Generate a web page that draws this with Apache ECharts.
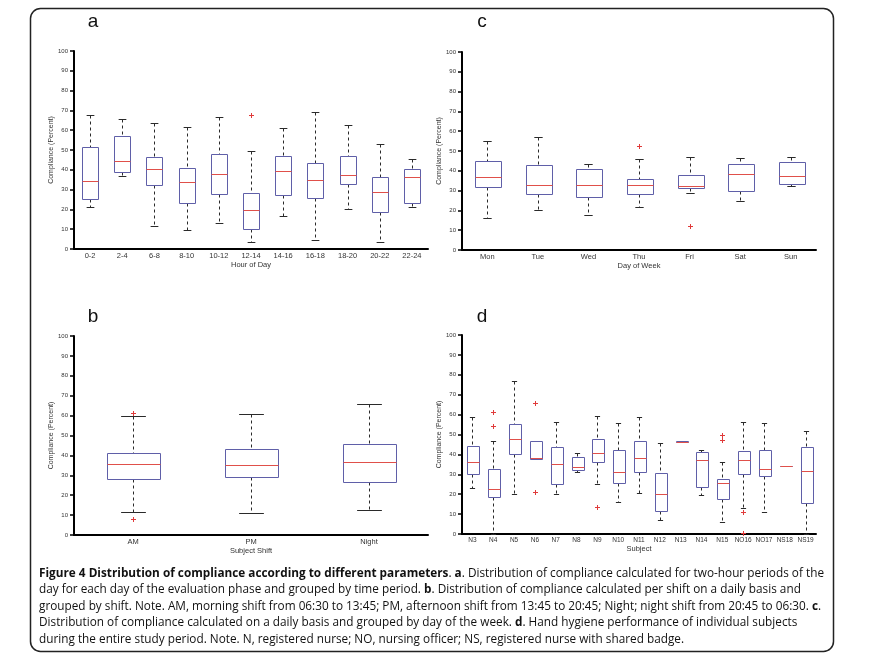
<!DOCTYPE html>
<html><head><meta charset="utf-8">
<script src="https://cdn.jsdelivr.net/npm/echarts@6/dist/echarts.min.js"></script>
<style>html,body{margin:0;padding:0;background:#fff}#c{width:881px;height:670px}</style>
</head><body><div id="c"></div>
<script>
// ---------- data (min, Q1, median, Q3, max) ----------
const hourCats = ['0-2','2-4','6-8','8-10','10-12','12-14','14-16','16-18','18-20','20-22','22-24'];
const hourStats = [
  [21.1, 25.5, 34.4, 51.7, 67.6],
  [36.7, 38.8, 44.5, 57.0, 65.9],
  [11.7, 32.4, 40.6, 46.5, 63.4],
  [9.7, 23.2, 33.7, 40.8, 61.7],
  [13.1, 27.9, 37.7, 47.8, 66.8],
  [3.5, 10.3, 19.7, 28.4, 49.7],
  [16.5, 27.1, 39.6, 47.1, 61.2],
  [4.4, 25.9, 34.8, 43.3, 69.0],
  [20.0, 33.0, 37.4, 47.0, 62.4],
  [3.5, 18.7, 28.6, 36.4, 53.0],
  [21.2, 23.2, 36.4, 40.2, 45.5]
];
const hourOutliers = [[5, 67.8]];

const dayCats = ['Mon','Tue','Wed','Thu','Fri','Sat','Sun'];
const dayStats = [
  [16.4, 32.0, 37.1, 44.7, 55.0],
  [20.2, 28.5, 32.9, 42.7, 57.2],
  [17.7, 26.6, 32.9, 40.8, 43.3],
  [21.6, 28.2, 32.9, 35.8, 46.2],
  [28.7, 31.4, 32.3, 37.8, 47.2],
  [24.8, 29.7, 38.4, 43.3, 46.7],
  [32.2, 33.2, 37.3, 44.5, 46.9]
];
const dayOutliers = [[3, 52.4], [4, 12.1]];

const shiftCats = ['AM','PM','Night'];
const shiftStats = [
  [11.6, 28.3, 35.7, 41.0, 60.0],
  [11.0, 29.1, 35.3, 43.0, 61.0],
  [12.6, 26.5, 36.7, 45.7, 66.0]
];
const shiftOutliers = [[0, 61.1], [0, 8.2]];

const subjectCats = ['N3','N4','N5','N6','N7','N8','N9','N10','N11','N12','N13','N14','N15','NO16','NO17','NS18','NS19'];
const subjectStats = [
  [23.0, 30.3, 36.2, 44.2, 59.0],
  [0.0, 18.6, 22.6, 32.5, 46.7],
  [19.9, 40.0, 47.6, 55.1, 77.0],
  [37.6, 37.6, 38.4, 46.6, 46.6],
  [20.3, 24.9, 35.0, 43.5, 56.4],
  [31.3, 32.0, 33.9, 38.5, 40.5],
  [24.9, 36.0, 40.6, 47.6, 59.3],
  [15.9, 25.5, 31.0, 42.2, 56.0],
  [20.6, 31.0, 38.0, 46.6, 58.6],
  [7.0, 11.5, 20.2, 30.9, 45.9],
  [46.1, 46.1, 46.1, 46.7, 46.7],
  [19.6, 23.8, 37.3, 41.0, 42.2],
  [6.2, 17.6, 25.4, 27.6, 36.0],
  [13.2, 30.3, 37.2, 41.9, 56.4],
  [10.9, 29.3, 32.8, 42.2, 55.6],
  [34.1, 34.1, 34.1, 34.1, 34.1],
  [0.0, 15.8, 31.7, 43.9, 51.6]
];
const subjectOutliers = [[1, 61.5], [1, 54.2], [3, 66.0], [3, 20.9], [6, 13.4], [12, 49.7], [12, 47.2], [13, 11.2], [13, 0.4]];

const yTickLabels = ['0','10','20','30','40','50','60','70','80','90','100'];

// ---------- styling ----------
const BOX_COLOR = '#5f5fa8';
const MED_COLOR = '#e0504a';
const WHISK_COLOR = '#2a2a2a';
const OUT_COLOR = '#e03a3a';
const FONT = '"Liberation Sans", Arial, sans-serif';

function boxRenderer(boxFrac, capFrac) {
  return function (params, api) {
    const i = api.value(0);
    const mn = api.value(1), q1 = api.value(2), md = api.value(3), q3 = api.value(4), mx = api.value(5);
    const band = api.size([1, 0])[0];
    const bw = band * boxFrac, cw = band * capFrac;
    const pMin = api.coord([i, mn]), pQ1 = api.coord([i, q1]), pMd = api.coord([i, md]),
          pQ3 = api.coord([i, q3]), pMax = api.coord([i, mx]);
    const cx = Math.round(pMin[0]) + 0.5;
    const r = v => Math.round(v) + 0.5;
    const ch = [];
    const dash = { stroke: WHISK_COLOR, lineWidth: 1, lineDash: [3, 3] };
    const solid = { stroke: WHISK_COLOR, lineWidth: 1 };
    if (mx > q3) {
      ch.push({ type: 'line', shape: { x1: cx, y1: r(pMax[1]), x2: cx, y2: r(pQ3[1]) }, style: dash });
      ch.push({ type: 'line', shape: { x1: cx - cw / 2, y1: r(pMax[1]), x2: cx + cw / 2, y2: r(pMax[1]) }, style: solid });
    }
    if (mn < q1) {
      ch.push({ type: 'line', shape: { x1: cx, y1: r(pQ1[1]), x2: cx, y2: r(pMin[1]) }, style: dash });
      ch.push({ type: 'line', shape: { x1: cx - cw / 2, y1: r(pMin[1]), x2: cx + cw / 2, y2: r(pMin[1]) }, style: solid });
    }
    const bx = Math.round(cx - bw / 2) + 0.5;
    const bwid = Math.round(bw);
    ch.push({ type: 'rect', shape: { x: bx, y: r(pQ3[1]), width: bwid, height: Math.round(pQ1[1]) - Math.round(pQ3[1]) },
      style: { fill: 'none', stroke: BOX_COLOR, lineWidth: 1 } });
    ch.push({ type: 'line', shape: { x1: bx, y1: r(pMd[1]), x2: bx + bwid, y2: r(pMd[1]) },
      style: { stroke: MED_COLOR, lineWidth: 1 } });
    return { type: 'group', children: ch };
  };
}

function outlierRenderer(params, api) {
  const p = api.coord([api.value(0), api.value(1)]);
  const x = Math.round(p[0]) + 0.5, y = Math.round(p[1]) + 0.5, s = 2.5;
  return { type: 'group', children: [
    { type: 'line', shape: { x1: x - s, y1: y, x2: x + s, y2: y }, style: { stroke: OUT_COLOR, lineWidth: 1 } },
    { type: 'line', shape: { x1: x, y1: y - s, x2: x, y2: y + s }, style: { stroke: OUT_COLOR, lineWidth: 1 } }
  ]};
}

const panels = [
  { cats: hourCats, stats: hourStats, outs: hourOutliers, xname: 'Hour of Day', grid: { left: 74, top: 51, width: 354, height: 198 }, box: 0.5, cap: 0.24, fs: 7.5 },
  { cats: dayCats, stats: dayStats, outs: dayOutliers, xname: 'Day of Week', grid: { left: 462, top: 52, width: 354, height: 198 }, box: 0.51, cap: 0.165, fs: 7.5 },
  { cats: shiftCats, stats: shiftStats, outs: shiftOutliers, xname: 'Subject Shift', grid: { left: 74, top: 336, width: 354, height: 199 }, box: 0.45, cap: 0.21, fs: 7.5 },
  { cats: subjectCats, stats: subjectStats, outs: subjectOutliers, xname: 'Subject', grid: { left: 462, top: 335, width: 354, height: 199 }, box: 0.56, cap: 0.25, fs: 6.5 }
];

const option = {
  animation: false,
  backgroundColor: '#fff',
  grid: [], xAxis: [], yAxis: [], series: [], graphic: []
};

panels.forEach((p, k) => {
  option.grid.push(Object.assign({ containLabel: false }, p.grid));
  option.xAxis.push({
    type: 'category', gridIndex: k, data: p.cats, boundaryGap: true,
    axisLine: { show: true, lineStyle: { color: '#000', width: 2 } },
    axisTick: { show: false },
    axisLabel: { interval: 0, fontSize: p.fs, color: '#333', margin: 3, fontFamily: FONT },
    splitLine: { show: false },
    name: p.xname, nameLocation: 'middle', nameGap: 10,
    nameTextStyle: { fontSize: 7.5, color: '#333', fontFamily: FONT }
  });
  option.yAxis.push({
    type: 'value', gridIndex: k, min: 0, max: 100, interval: 10,
    axisLine: { show: true, lineStyle: { color: '#000', width: 2 } },
    axisTick: { show: true, length: 4, lineStyle: { color: '#000', width: 1.5 } },
    axisLabel: { fontSize: 6, color: '#333', margin: 6, fontFamily: FONT,
      formatter: v => yTickLabels[Math.round(v / 10)] },
    splitLine: { show: false },
    name: 'Compliance (Percent)', nameLocation: 'middle', nameRotate: 90, nameGap: 17,
    nameTextStyle: { fontSize: 7, color: '#333', fontFamily: FONT }
  });
  option.series.push({
    type: 'custom', xAxisIndex: k, yAxisIndex: k, silent: true, clip: false,
    data: p.stats.map((s, i) => [i].concat(s)),
    encode: { x: 0, y: [1, 2, 3, 4, 5] },
    renderItem: boxRenderer(p.box, p.cap), z: 2
  });
  option.series.push({
    type: 'custom', xAxisIndex: k, yAxisIndex: k, silent: true, clip: false,
    data: p.outs, encode: { x: 0, y: 1 },
    renderItem: outlierRenderer, z: 3
  });
});

// panel letters
[['a', 93, 22], ['c', 482, 22], ['b', 93, 317], ['d', 482, 317]].forEach(t => {
  option.graphic.push({ type: 'text', x: t[1], y: t[2], silent: true,
    style: { text: t[0], fontSize: 19, fontFamily: FONT, fill: '#111', align: 'center', verticalAlign: 'middle' } });
});

// frame
option.graphic.push({ type: 'rect', silent: true, z: -1,
  shape: { x: 30.5, y: 8.5, width: 803, height: 643, r: 10 },
  style: { fill: 'none', stroke: '#222', lineWidth: 1.5 } });

// caption
const captionLines = [
  [['Figure 4 Distribution of compliance according to different parameters', 1], ['. ', 0], ['a', 1], ['. Distribution of compliance calculated for two-hour periods of the', 0]],
  [['day for each day of the evaluation phase and grouped by time period. ', 0], ['b', 1], ['. Distribution of compliance calculated per shift on a daily basis and', 0]],
  [['grouped by shift. Note. AM, morning shift from 06:30 to 13:45; PM, afternoon shift from 13:45 to 20:45; Night; night shift from 20:45 to 06:30. ', 0], ['c', 1], ['.', 0]],
  [['Distribution of compliance calculated on a daily basis and grouped by day of the week. ', 0], ['d', 1], ['. Hand hygiene performance of individual subjects', 0]],
  [['during the entire study period. Note. N, registered nurse; NO, nursing officer; NS, registered nurse with shared badge.', 0]]
];
const CAP_FONT = '"Open Sans", "Liberation Sans", sans-serif';
const CAP_SIZE = 12.5;
const ctx = document.createElement('canvas').getContext('2d');
function measure(line) {
  let w = 0;
  line.forEach(seg => {
    ctx.font = (seg[1] ? 'bold ' : '') + CAP_SIZE + 'px ' + CAP_FONT;
    w += ctx.measureText(seg[0]).width;
  });
  return w;
}
const capScale = 785 / measure(captionLines[0]);
const capY = [573, 589.5, 606, 622.5, 639];
captionLines.forEach((line, i) => {
  const txt = line.map(seg => seg[1] ? '{b|' + seg[0] + '}' : '{n|' + seg[0] + '}').join('');
  option.graphic.push({ type: 'text', x: 39, y: capY[i], scaleX: capScale, silent: true,
    style: { text: txt, fontSize: CAP_SIZE, fontFamily: CAP_FONT, fill: '#111', verticalAlign: 'middle', align: 'left',
      rich: { b: { fontWeight: 'bold', fontSize: CAP_SIZE, fontFamily: CAP_FONT, fill: '#111' },
              n: { fontSize: CAP_SIZE, fontFamily: CAP_FONT, fill: '#111' } } } });
});

const chart = echarts.init(document.getElementById('c'), null, { renderer: 'canvas', width: 881, height: 670 });
chart.setOption(option);
</script></body></html>
